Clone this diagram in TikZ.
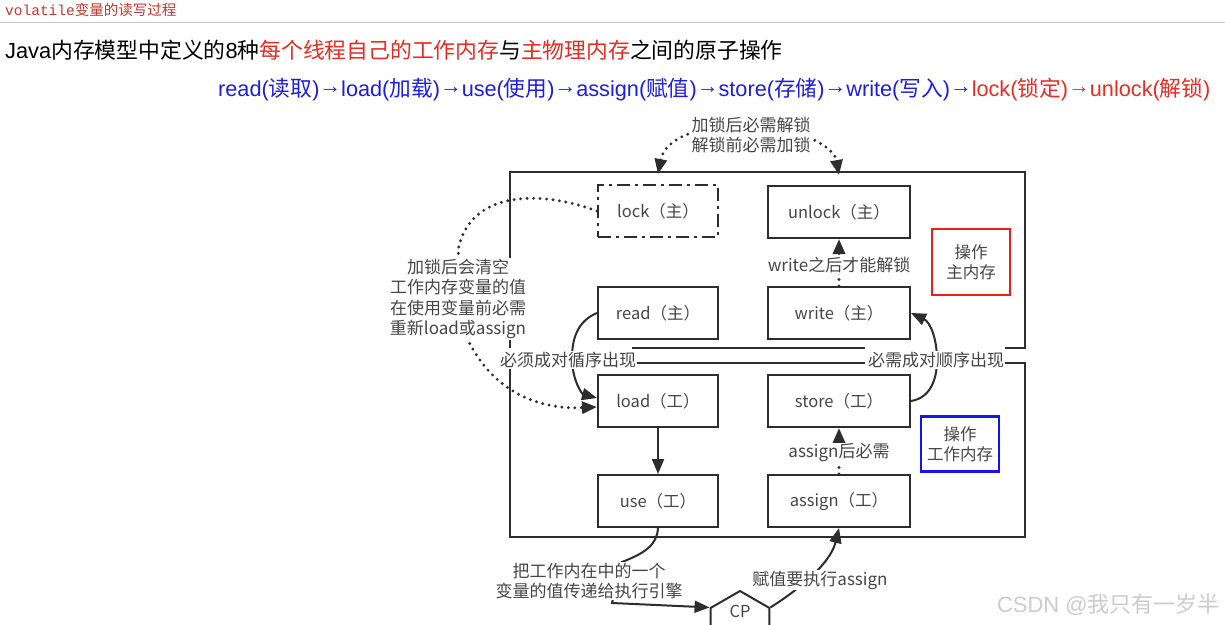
\documentclass[tikz,border=0pt]{standalone}
\usepackage{fontspec}
\setmainfont{Noto Sans CJK SC}
\newfontfamily\lat{Liberation Sans}
\newfontfamily\mon{Liberation Mono}
\usetikzlibrary{shapes.geometric,arrows.meta}
\definecolor{ink}{RGB}{45,45,45}
\definecolor{txt}{RGB}{70,70,70}
\definecolor{tblue}{RGB}{30,30,225}
\definecolor{tred}{RGB}{230,45,35}
\definecolor{hred}{RGB}{195,55,45}
\definecolor{frred}{RGB}{235,30,30}
\definecolor{frblue}{RGB}{20,20,230}
\newcommand\lt[1]{{\lat #1}}
\newcommand\arr{\raisebox{0.18em}{\lat →}}
\begin{document}
\begin{tikzpicture}[x=1pt,y=-1pt,
  box/.style={draw=ink,line width=2pt,minimum width=120pt,minimum height=52pt,font=\fontsize{16.5}{19}\selectfont,text=txt,inner sep=0pt},
  wbox/.style={box,minimum width=142pt},
  frame/.style={draw=ink,line width=2.5pt},
  conn/.style={draw=ink,line width=2pt},
  dots/.style={draw=ink,line width=3.2pt,line cap=round,dash pattern=on 0pt off 6.5pt},
  tip/.style={-{Triangle[length=15pt,width=12pt]}},
  lbl/.style={font=\fontsize{17}{20.5}\selectfont,text=txt,fill=white,inner sep=1pt,align=center},
  opbox/.style={line width=2.5pt,align=center,font=\fontsize{16.5}{20}\selectfont,text=txt,inner sep=0pt},
  cpbox/.style={draw=ink,line width=2pt,regular polygon,regular polygon sides=6,shape border rotate=30,minimum size=68pt,inner sep=0pt}
]
\useasboundingbox[fill=white] (0,0) rectangle (1225,624);

% header
\node[anchor=west,inner sep=0pt,text=hred,font=\fontsize{14.5}{16}\selectfont] (hdr) at (5,10) {{\mon volatile}变量的读写过程};
\draw[gray!45,line width=1pt] (0,22) -- (1225,22);

% title lines
\node[anchor=west,inner sep=0pt,font=\fontsize{21.8}{24}\selectfont] (t1) at (5,50)
  {\lt{Java}内存模型中定义的\lt{8}种\textcolor{tred}{每个线程自己的工作内存}与\textcolor{tred}{主物理内存}之间的原子操作};
\node[anchor=west,inner sep=0pt,font=\fontsize{21.7}{24}\selectfont] (t2) at (218,90)
  {\color{tblue}\lt{read(}读取\lt{)}\arr\lt{load(}加载\lt{)}\arr\lt{use(}使用\lt{)}\arr\lt{assign(}赋值\lt{)}\arr\lt{store(}存储\lt{)}\arr\lt{write(}写入\lt{)}\arr\color{tred}\lt{lock(}锁定\lt{)}\arr\lt{unlock(}解锁\lt{)}};

% frames
\draw[frame] (510,348) -- (510,172) -- (1025,172) -- (1025,348) -- (1005,348);
\draw[frame] (632,348) -- (865,348);
\draw[frame] (632,363) -- (865,363);
\draw[frame] (1005,363) -- (1025,363) -- (1025,537) -- (510,537) -- (510,363);

% boxes
\node[box,dash pattern=on 13pt off 5pt on 3pt off 5pt] (lock) at (658,211) {lock（主）};
\node[wbox] (unlock) at (839,212) {unlock（主）};
\node[box] (read) at (658,313) {read（主）};
\node[wbox] (write) at (839,313) {write（主）};
\node[box] (load) at (658,401) {load（工）};
\node[wbox] (store) at (839,401) {store（工）};
\node[box] (use) at (658,501) {use（工）};
\node[wbox] (assign) at (839,501) {assign（工）};

\node[opbox,draw=frred,minimum width=78pt,minimum height=66pt] (opmain) at (971,262) {操作\\主内存};
\node[opbox,draw=frblue,minimum width=78pt,minimum height=55pt] (opwork) at (960,444) {操作\\工作内存};

\node[cpbox] (cp) at (740,625) {};
\node[inner sep=0pt,text=txt,font=\fontsize{16.5}{18}\selectfont] (cptext) at (740,611) {CP};

% connectors
\draw[dots,{Triangle[length=15pt,width=12pt]}-{Triangle[length=15pt,width=12pt]}]
  ([yshift=10pt]lock.north) .. controls (665,138) and (700,124) .. (750,126)
  .. controls (800,128) and (834,146) .. ([yshift=10pt]unlock.north);
\draw[dots,tip] (lock.west) .. controls (540,190) and (470,190) .. (458,250)
  -- (468,340) .. controls (490,385) and (530,410) .. ([yshift=-6pt]load.west);
\draw[conn,tip] (read.west) .. controls (580,320) and (572,335) .. (572,358)
  .. controls (572,380) and (582,394) .. ([yshift=3pt]load.west);
\draw[conn,tip] (store.east) .. controls (930,398) and (937,380) .. (937,360)
  .. controls (937,338) and (930,322) .. (write.east);
\draw[dots,tip] (write.north) -- (unlock.south);
\draw[conn,tip] (load.south) -- (use.north);
\draw[dots,tip] (assign.north) -- (store.south);
\draw[conn,tip] (use.south) .. controls (657,545) and (645,553) .. (622,562)
  -- (612,603) -- (cp.150);
\draw[conn,tip] (cp.30) .. controls (795,592) and (830,565) .. (assign.south);

% labels
\node[lbl] (locknote) at (751,135) {加锁后必需解锁\\解锁前必需加锁};
\node[lbl] (clearnote) at (458,299) {加锁后会清空\\工作内存变量的值\\在使用变量前必需\\重新load或assign};
\node[lbl] (pairleft) at (568,360) {必须成对循序出现};
\node[lbl] (pairright) at (936,360) {必需成对顺序出现};
\node[lbl] (wnote) at (839,265) {write之后才能解锁};
\node[lbl] (anote) at (839,453) {assign后必需};
\node[lbl] (usecp) at (589,581) {把工作内在中的一个\\变量的值传递给执行引擎};
\node[lbl] (cpnote) at (820,580) {赋值要执行assign};

% watermark
\node[anchor=east,inner sep=0pt,text=gray!40,font=\fontsize{22}{24}\selectfont] (wm) at (1220,605) {\lt{CSDN @}我只有一岁半};
\end{tikzpicture}
\end{document}
